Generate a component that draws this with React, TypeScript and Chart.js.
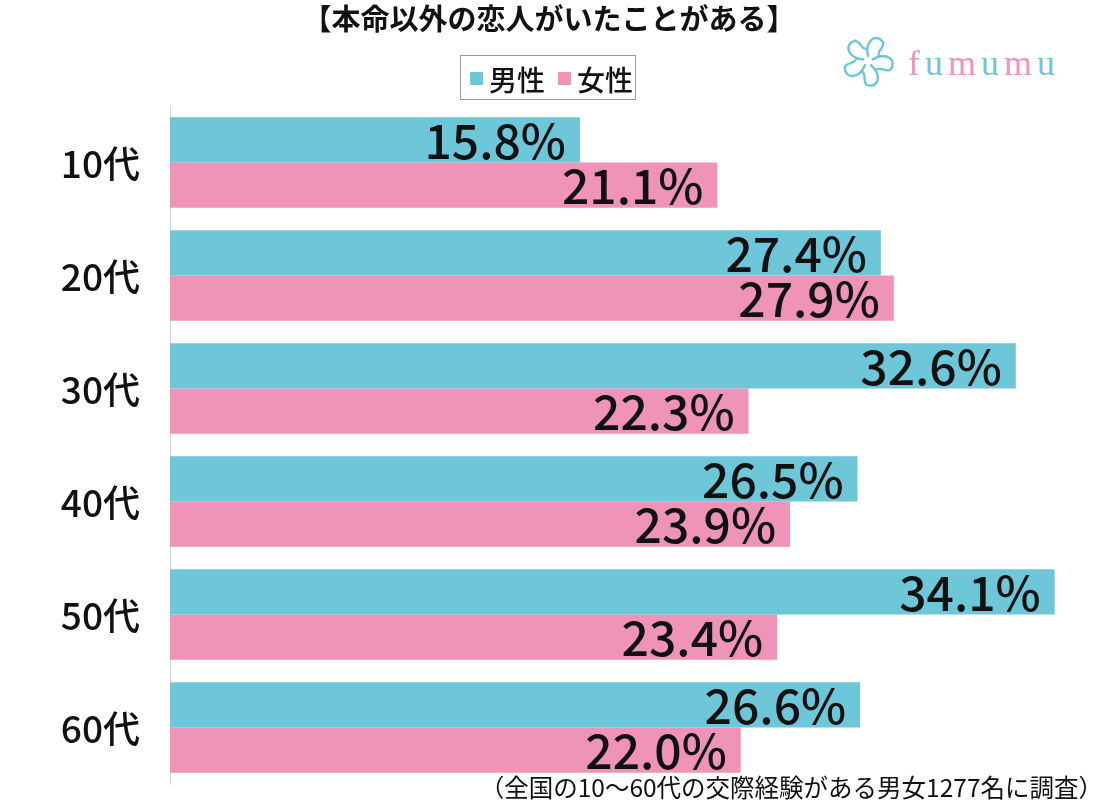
import React, { useEffect, useRef } from "react";
import { Chart, registerables } from "chart.js";

Chart.register(...registerables);

const titleText = "【本命以外の恋人がいたことがある】";
const categories = ["10代", "20代", "30代", "40代", "50代", "60代"];
const seriesNames = ["男性", "女性"];
const maleValues = [15.8, 27.4, 32.6, 26.5, 34.1, 26.6];
const femaleValues = [21.1, 27.9, 22.3, 23.9, 23.4, 22.0];
const footnoteText = "（全国の10〜60代の交際経験がある男女1277名に調査）";
const logoText = "fumumu";

const MALE = "#6ec6d9";
const FEMALE = "#ef93b9";
const FONT = "'Noto Sans CJK JP', 'Noto Sans', sans-serif";

const decorPlugin = {
  id: "decor",
  afterDatasetsDraw(chart: any) {
    const ctx = chart.ctx;
    ctx.save();
    ctx.fillStyle = "#111";
    ctx.font = `500 48px ${FONT}`;
    ctx.textAlign = "right";
    ctx.textBaseline = "middle";
    chart.data.datasets.forEach((ds: any, di: number) => {
      const meta = chart.getDatasetMeta(di);
      meta.data.forEach((bar: any, i: number) => {
        const v = ds.data[i];
        ctx.fillText(v.toFixed(1) + "%", bar.x - 14, bar.y + 1);
      });
    });
    // category labels from the y scale
    const ys = chart.scales.y;
    ctx.font = `500 37px ${FONT}`;
    ctx.textAlign = "right";
    chart.data.labels.forEach((lab: string, i: number) => {
      ctx.fillText(lab, ys.right - 30, ys.getPixelForTick(i) + 1);
    });
    ctx.restore();
  },
  afterDraw(chart: any) {
    const ctx = chart.ctx;
    ctx.save();
    // title
    ctx.fillStyle = "#111";
    ctx.font = `bold 29px ${FONT}`;
    ctx.textAlign = "center";
    ctx.textBaseline = "middle";
    ctx.fillText(titleText, 549, 19);

    // legend box
    ctx.strokeStyle = "#9a9a9a";
    ctx.lineWidth = 1;
    ctx.strokeRect(460.5, 55.5, 175, 44);
    ctx.font = `500 28px ${FONT}`;
    ctx.textAlign = "left";
    ctx.fillStyle = MALE;
    ctx.fillRect(470, 72, 13, 13);
    ctx.fillStyle = "#111";
    ctx.fillText(seriesNames[0], 489, 80);
    ctx.fillStyle = FEMALE;
    ctx.fillRect(558, 72, 13, 13);
    ctx.fillStyle = "#111";
    ctx.fillText(seriesNames[1], 577, 80);

    // logo flower
    const cx = 868, cy = 61;
    ctx.strokeStyle = "#6cc5d9";
    ctx.lineWidth = 2.4;
    ctx.lineCap = "round";
    for (let k = 0; k < 5; k++) {
      const a = (k * 72 - 90) * Math.PI / 180;
      const p = (r: number, d: number) => [cx + r * Math.cos(a + d * Math.PI / 180), cy + r * Math.sin(a + d * Math.PI / 180)];
      const s = p(5, 0), c1 = p(20, -10), c2 = p(30, 15), e = p(24, 40);
      const c3 = p(18, 55), c4 = p(16, 40), e2 = p(12, 62);
      ctx.beginPath();
      ctx.moveTo(s[0], s[1]);
      ctx.bezierCurveTo(c1[0], c1[1], c2[0], c2[1], e[0], e[1]);
      ctx.bezierCurveTo(c3[0], c3[1], c4[0], c4[1], e2[0], e2[1]);
      ctx.stroke();
    }
    // logo text
    ctx.font = `36px 'Liberation Serif', 'DejaVu Serif', serif`;
    ctx.textBaseline = "alphabetic";
    let x = 908;
    for (let i = 0; i < logoText.length; i++) {
      const ch = logoText[i];
      ctx.fillStyle = i % 2 === 0 ? "#ef93b9" : "#6cc5d9";
      ctx.fillText(ch, x, 75);
      x += ctx.measureText(ch).width + 5;
    }

    // footnote
    ctx.fillStyle = "#111";
    ctx.font = `24.5px ${FONT}`;
    ctx.textAlign = "right";
    ctx.textBaseline = "middle";
    ctx.fillText(footnoteText, 1103, 788);
    ctx.restore();
  },
};

export default function App() {
  const ref = useRef<HTMLCanvasElement | null>(null);
  useEffect(() => {
    if (!ref.current) return;
    const chart = new Chart(ref.current, {
      type: "bar",
      data: {
        labels: categories,
        datasets: [
          { label: seriesNames[0], data: maleValues, backgroundColor: MALE, categoryPercentage: 0.8, barPercentage: 1.0 },
          { label: seriesNames[1], data: femaleValues, backgroundColor: FEMALE, categoryPercentage: 0.8, barPercentage: 1.0 },
        ],
      },
      options: {
        indexAxis: "y",
        animation: false,
        responsive: false,
        maintainAspectRatio: false,
        layout: { padding: { top: 106, bottom: 16, right: 24, left: 0 } },
        plugins: { legend: { display: false }, title: { display: false }, tooltip: { enabled: false } },
        scales: {
          x: { display: false, min: 0, max: 35 },
          y: {
            afterFit: (s: any) => { s.width = 170; },
            grid: { display: false, drawTicks: false },
            border: { display: true, color: "#d6d6d6", width: 1 },
            ticks: { display: false },
          },
        },
      },
      plugins: [decorPlugin],
    } as any);
    return () => chart.destroy();
  }, []);
  return (
    <div style={{ position: "absolute", left: 0, top: 0, width: 1102, height: 800, background: "#fff" }}>
      <canvas ref={ref} width={1102} height={800} style={{ width: 1102, height: 800 }} />
    </div>
  );
}
